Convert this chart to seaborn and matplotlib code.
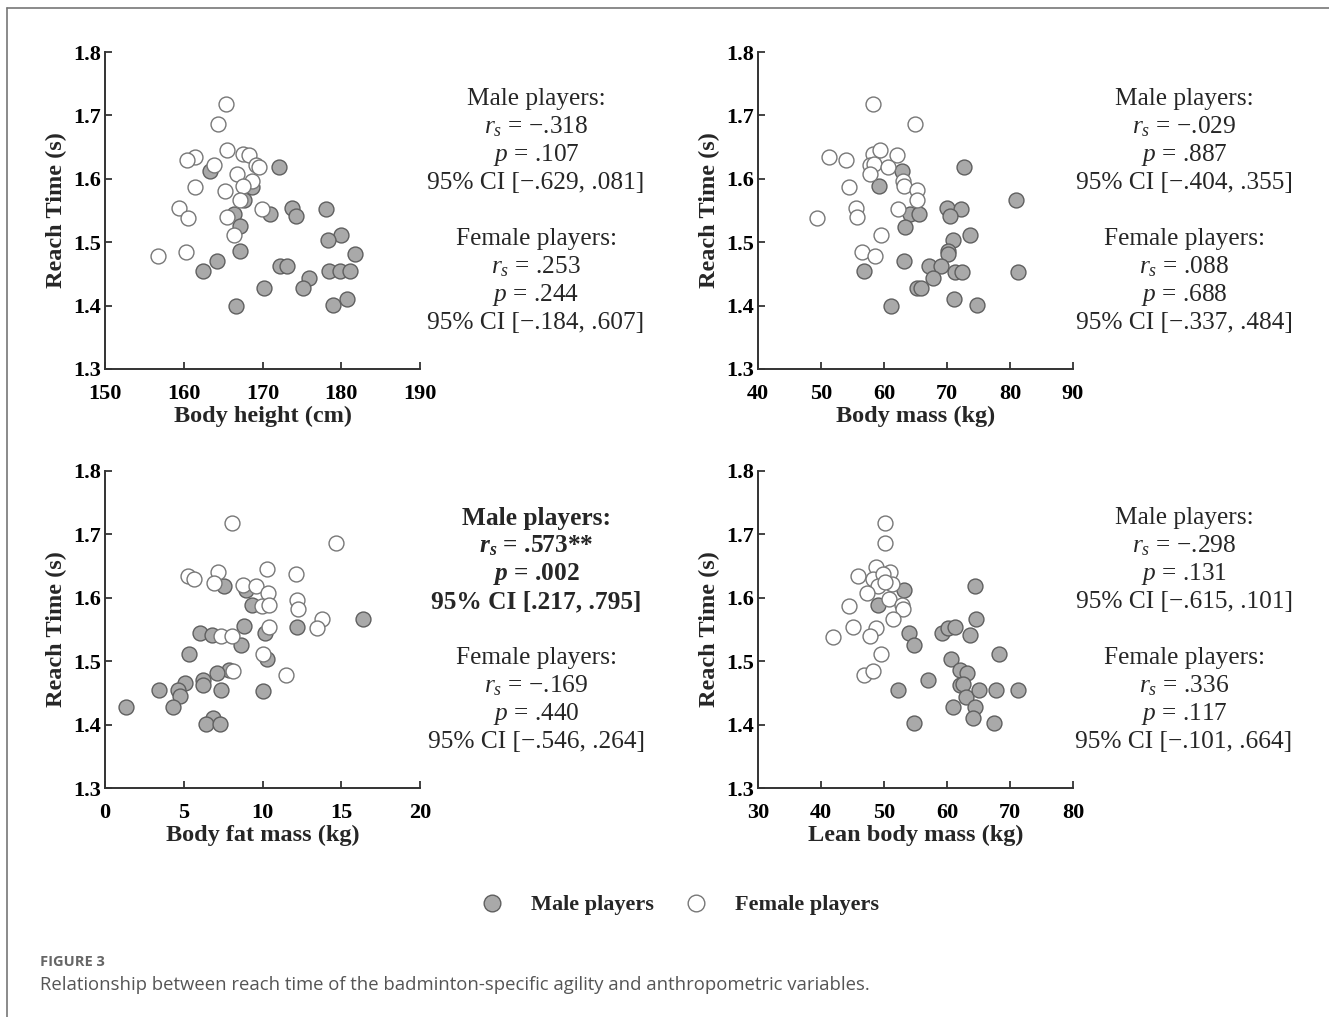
import pandas as pd
import matplotlib.pyplot as plt
import seaborn as sns
from matplotlib.lines import Line2D

# ---- data ----
height_male = [172.1, 163.3, 168.7, 167.6, 166.4, 171.0, 173.7, 174.2, 178.0, 167.2, 180.0, 178.3, 181.7, 167.2,
               164.2, 162.5, 172.2, 173.1, 175.9, 178.4, 179.8, 181.1, 170.2, 175.1, 166.6, 179.0, 180.7]
rt_h_male = [1.619, 1.612, 1.587, 1.567, 1.544, 1.545, 1.554, 1.541, 1.553, 1.525, 1.511, 1.503, 1.481, 1.486,
             1.470, 1.454, 1.462, 1.462, 1.444, 1.454, 1.454, 1.454, 1.427, 1.427, 1.400, 1.401, 1.411]
height_female = [165.4, 164.4, 165.5, 161.4, 160.4, 163.9, 167.5, 168.3, 169.2, 169.6, 166.8, 161.4, 165.2, 168.7,
                 167.5, 167.1, 159.4, 160.5, 165.5, 169.9, 166.4, 156.7, 160.3]
rt_h_female = [1.718, 1.687, 1.646, 1.634, 1.630, 1.621, 1.639, 1.637, 1.622, 1.618, 1.607, 1.587, 1.581, 1.597,
               1.588, 1.567, 1.554, 1.538, 1.539, 1.552, 1.511, 1.479, 1.484]

mass_male = [72.7, 62.8, 59.2, 80.9, 70.0, 72.2, 70.5, 64.2, 65.6, 63.4, 73.7, 70.9, 70.1, 70.2,
             63.2, 56.9, 67.2, 69.0, 71.3, 72.4, 81.3, 67.7, 65.3, 65.9, 61.1, 71.1, 74.8]
rt_m_male = [1.619, 1.613, 1.588, 1.567, 1.554, 1.553, 1.541, 1.544, 1.545, 1.524, 1.512, 1.503, 1.486, 1.481,
             1.470, 1.455, 1.462, 1.462, 1.453, 1.453, 1.453, 1.444, 1.427, 1.427, 1.400, 1.411, 1.401]
mass_female = [58.2, 64.9, 51.3, 54.0, 58.3, 59.3, 62.0, 57.8, 58.4, 60.7, 57.7, 63.0, 63.1, 54.5,
               65.2, 65.2, 55.6, 55.7, 62.3, 49.3, 59.6, 56.5, 58.6]
rt_m_female = [1.718, 1.687, 1.635, 1.629, 1.639, 1.646, 1.637, 1.621, 1.624, 1.618, 1.607, 1.596, 1.588, 1.587,
               1.582, 1.567, 1.554, 1.539, 1.552, 1.538, 1.512, 1.484, 1.478]

fat_male = [7.58, 8.93, 9.35, 16.4, 12.17, 8.85, 6.03, 6.77, 10.16, 8.63, 5.35, 10.26, 7.89, 7.13,
            5.08, 6.20, 6.24, 4.66, 4.76, 3.43, 7.37, 10.05, 4.34, 1.33, 6.88, 6.39, 7.30]
rt_f_male = [1.619, 1.613, 1.588, 1.567, 1.554, 1.555, 1.545, 1.542, 1.544, 1.525, 1.512, 1.503, 1.486, 1.481,
             1.465, 1.470, 1.462, 1.454, 1.445, 1.454, 1.454, 1.453, 1.427, 1.427, 1.411, 1.401, 1.401]
fat_female = [8.08, 14.67, 10.26, 12.1, 5.29, 5.67, 7.15, 6.94, 8.78, 9.57, 10.37, 12.17, 12.28, 9.99,
              10.43, 13.76, 13.44, 10.41, 7.37, 8.04, 10.05, 11.47, 8.15]
rt_f_female = [1.718, 1.687, 1.646, 1.637, 1.634, 1.630, 1.641, 1.623, 1.620, 1.618, 1.608, 1.597, 1.582, 1.587,
               1.588, 1.567, 1.552, 1.554, 1.539, 1.539, 1.512, 1.479, 1.484]

lean_male = [64.4, 53.2, 49.1, 64.6, 59.2, 60.1, 61.2, 63.6, 54.0, 54.8, 68.3, 60.6, 62.0, 63.1,
             57.0, 62.1, 62.6, 63.0, 65.0, 67.8, 71.2, 52.3, 60.9, 64.4, 64.2, 54.7, 67.5]
rt_l_male = [1.619, 1.613, 1.588, 1.567, 1.544, 1.553, 1.554, 1.542, 1.544, 1.525, 1.512, 1.503, 1.486, 1.481,
             1.471, 1.463, 1.464, 1.444, 1.454, 1.454, 1.454, 1.455, 1.427, 1.428, 1.411, 1.402, 1.402]
lean_female = [50.2, 50.2, 45.9, 48.8, 51.0, 48.3, 49.9, 49.1, 51.2, 47.3, 50.8, 52.8, 53.0, 44.5,
               51.5, 45.1, 48.7, 47.7, 41.95, 49.5, 46.8, 48.3, 50.2]
rt_l_female = [1.718, 1.686, 1.635, 1.648, 1.640, 1.629, 1.637, 1.618, 1.621, 1.608, 1.598, 1.588, 1.582, 1.587,
               1.567, 1.554, 1.553, 1.540, 1.538, 1.512, 1.479, 1.484, 1.625]

x_labels = ['Body height (cm)', 'Body mass (kg)', 'Body fat mass (kg)', 'Lean body mass (kg)']
x_limits = [(150, 190), (40, 90), (0, 20), (30, 80)]
x_steps = [10, 10, 5, 10]

stats_text = [
    (['Male players:', '$r_s$ = −.318', '$p$ = .107', '95% CI [−.629, .081]'],
     ['Female players:', '$r_s$ = .253', '$p$ = .244', '95% CI [−.184, .607]']),
    (['Male players:', '$r_s$ = −.029', '$p$ = .887', '95% CI [−.404, .355]'],
     ['Female players:', '$r_s$ = .088', '$p$ = .688', '95% CI [−.337, .484]']),
    (['Male players:', r'$\mathbfit{r_s}$ = .573**', r'$\mathbfit{p}$ = .002', '95% CI [.217, .795]'],
     ['Female players:', '$r_s$ = −.169', '$p$ = .440', '95% CI [−.546, .264]']),
    (['Male players:', '$r_s$ = −.298', '$p$ = .131', '95% CI [−.615, .101]'],
     ['Female players:', '$r_s$ = .336', '$p$ = .117', '95% CI [−.101, .664]']),
]
bold_male = [False, False, True, False]

panels = [
    (height_male, rt_h_male, height_female, rt_h_female),
    (mass_male, rt_m_male, mass_female, rt_m_female),
    (fat_male, rt_f_male, fat_female, rt_f_female),
    (lean_male, rt_l_male, lean_female, rt_l_female),
]

# ---- style ----
sns.set_style('white')
plt.rcParams['font.family'] = ['Liberation Serif', 'DejaVu Serif']
plt.rcParams['mathtext.fontset'] = 'custom'
plt.rcParams['mathtext.rm'] = 'Liberation Serif'
plt.rcParams['mathtext.it'] = 'Liberation Serif:italic'
plt.rcParams['mathtext.bf'] = 'Liberation Serif:bold'
plt.rcParams['mathtext.bfit'] = 'Liberation Serif:bold:italic'

W, H = 1329, 1017
fig = plt.figure(figsize=(W / 100, H / 100), dpi=100)


def px(x, y):
    return x / W, 1 - y / H


male_col, male_edge = '#a9a9a9', '#5f5f5f'
fem_col, fem_edge = 'white', '#777777'

axes_px = [(105, 52), (758, 52), (105, 471), (758, 471)]
text_cx = [536, 1184, 536, 1184]

for i, (xm, ym, xf, yf) in enumerate(panels):
    left, top = axes_px[i]
    ax = fig.add_axes([left / W, 1 - (top + 317) / H, 315 / W, 317 / H])
    dm = pd.DataFrame({'x': xm, 'y': ym})
    df = pd.DataFrame({'x': xf, 'y': yf})
    sns.scatterplot(data=dm, x='x', y='y', ax=ax, s=115, color=male_col,
                    edgecolor=male_edge, linewidth=1.0, zorder=3, clip_on=False)
    sns.scatterplot(data=df, x='x', y='y', ax=ax, s=115, color=fem_col,
                    edgecolor=fem_edge, linewidth=1.0, zorder=3, clip_on=False)
    lo, hi = x_limits[i]
    ax.set_xlim(lo, hi)
    ax.set_ylim(1.3, 1.8)
    ax.set_xticks(range(lo, hi + 1, x_steps[i]))
    ax.set_yticks([1.3, 1.4, 1.5, 1.6, 1.7, 1.8])
    ax.set_yticklabels(['1.3', '1.4', '1.5', '1.6', '1.7', '1.8'])
    for lab in ax.get_xticklabels() + ax.get_yticklabels():
        lab.set_fontweight('bold')
        lab.set_fontsize(16)
    ax.tick_params(direction='in', length=5, width=1.2, colors='#222222',
                   left=True, bottom=True)
    ax.tick_params(axis='x', pad=11)
    ax.tick_params(axis='y', pad=3)
    ax.tick_params(axis='both', labelcolor='black')
    ax.set_xlabel(x_labels[i], fontsize=17.5, fontweight='bold', labelpad=1)
    ax.set_ylabel('Reach Time (s)', fontsize=17.5, fontweight='bold', labelpad=4)
    for side in ['top', 'right']:
        ax.spines[side].set_visible(False)
    for side in ['left', 'bottom']:
        ax.spines[side].set_linewidth(1.4)
        ax.spines[side].set_color('#333333')
    ax.patch.set_alpha(0)

    male_lines, fem_lines = stats_text[i]
    y0 = top + 47
    for j, line in enumerate(male_lines):
        fig.text(*px(text_cx[i], y0 + j * 28), line, ha='center', va='center', fontsize=18.3,
                 fontweight='bold' if bold_male[i] else 'normal')
    for j, line in enumerate(fem_lines):
        fig.text(*px(text_cx[i], y0 + 140 + j * 28), line, ha='center', va='center', fontsize=18.3)

# legend
handles = [Line2D([], [], marker='o', ls='', markersize=12, markerfacecolor=male_col,
                  markeredgecolor=male_edge, markeredgewidth=1.0),
           Line2D([], [], marker='o', ls='', markersize=12, markerfacecolor=fem_col,
                  markeredgecolor=fem_edge, markeredgewidth=1.0)]
fig.legend(handles, ['Male players', 'Female players'], loc='center',
           bbox_to_anchor=px(680, 905), ncol=2, frameon=False, handlelength=1.0,
           handletextpad=1.27, columnspacing=1.4,
           prop={'family': 'Liberation Serif', 'weight': 'bold', 'size': 16})

# frame and caption
fig.add_artist(Line2D([7 / W, 1], [1 - 8 / H, 1 - 8 / H], color='#777777', lw=1.2))
fig.add_artist(Line2D([7 / W, 7 / W], [0, 1 - 8 / H], color='#777777', lw=1.2))
fig.text(*px(40, 962), 'FIGURE 3', fontsize=10.5, fontweight='bold', color='#666666',
         va='center', family=['Open Sans', 'DejaVu Sans'])
fig.text(*px(40, 985), 'Relationship between reach time of the badminton-specific agility and anthropometric variables.',
         fontsize=13.3, color='#555555', va='center', family=['Open Sans', 'DejaVu Sans'])

fig.savefig('out.png', dpi=100)
